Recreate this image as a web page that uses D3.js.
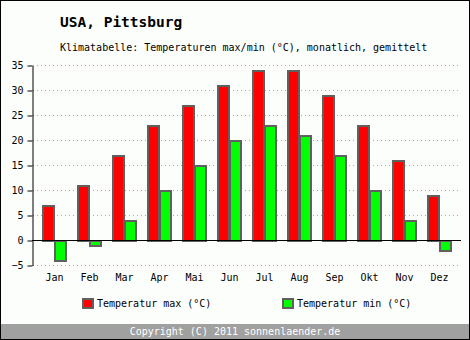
<!DOCTYPE html>
<html><head><meta charset="utf-8">
<script src="https://cdn.jsdelivr.net/npm/d3@7/dist/d3.min.js"></script>
<style>body{margin:0;background:#fff}svg{display:block}text{font-family:"DejaVu Sans Mono",monospace}</style>
</head><body>
<script>
const months = ["Jan","Feb","Mar","Apr","Mai","Jun","Jul","Aug","Sep","Okt","Nov","Dez"];
const tempMax = [7,11,17,23,27,31,34,34,29,23,16,9];
const tempMin = [-4,-1,4,10,15,20,23,21,17,10,4,-2];
const yTicks = [-5,0,5,10,15,20,25,30,35];
const seriesNames = ["Temperatur max (°C)","Temperatur min (°C)"];
const colors = ["#ff0000","#00ff00"];

const W=470,H=340;
const svg=d3.select("body").append("svg").attr("width",W).attr("height",H);
svg.append("rect").attr("x",0.5).attr("y",0.5).attr("width",W-1).attr("height",H-1).attr("fill","#fcfefc").attr("stroke","#000").attr("stroke-width",1);
svg.append("rect").attr("x",1).attr("y",324).attr("width",W-2).attr("height",15).attr("fill","#a0a0a0");
svg.append("text").attr("x",235).attr("y",335).attr("text-anchor","middle").attr("fill","#fff").attr("font-size",10).text("Copyright (C) 2011 sonnenlaender.de");

svg.append("text").attr("x",60).attr("y",27).attr("font-size",14.5).attr("font-weight","bold").text("USA, Pittsburg");
svg.append("text").attr("x",60).attr("y",51).attr("font-size",10).text("Klimatabelle: Temperaturen max/min (°C), monatlich, gemittelt");

const x=d3.scaleBand().domain(months).range([32,452]);
const y=d3.scaleLinear().domain([-5,35]).range([265,65]);

// grid
svg.append("g").selectAll("line").data(yTicks.filter(d=>d!==0)).join("line")
 .attr("x1",33).attr("x2",461).attr("y1",d=>y(d)+0.5).attr("y2",d=>y(d)+0.5)
 .attr("stroke","#aaaaaa").attr("stroke-dasharray","1,3");

// y axis
const ax=svg.append("g").attr("transform","translate(32.5,0.5)")
 .call(d3.axisLeft(y).tickValues(yTicks).tickSize(5).tickSizeOuter(0).tickPadding(4));
ax.select(".domain").attr("stroke","#000");
ax.selectAll("text").attr("font-size",10).attr("font-family","DejaVu Sans Mono").attr("fill","#000");

const bw=12;
const g=svg.append("g");
g.selectAll("rect.mx").data(tempMax).join("rect").attr("class","mx")
 .attr("x",(d,i)=>x(months[i])+11).attr("width",bw-1)
 .attr("y",d=>Math.min(y(d),y(0))+1).attr("height",d=>Math.abs(y(d)-y(0)))
 .attr("fill",colors[0]).attr("stroke","#606060").attr("stroke-width",2);
g.selectAll("rect.mn").data(tempMin).join("rect").attr("class","mn")
 .attr("x",(d,i)=>x(months[i])+11+bw).attr("width",bw-1)
 .attr("y",d=>Math.min(y(d),y(0))+1).attr("height",d=>Math.abs(y(d)-y(0)))
 .attr("fill",colors[1]).attr("stroke","#606060").attr("stroke-width",2);

svg.append("line").attr("x1",32).attr("x2",461).attr("y1",y(0)+0.5).attr("y2",y(0)+0.5).attr("stroke","#000");

svg.append("g").selectAll("text").data(months).join("text")
 .attr("x",d=>x(d)+22.5).attr("y",281).attr("text-anchor","middle").attr("font-size",10).text(d=>d);

const lg=svg.append("g");
[82,282].forEach((lx,i)=>{
 lg.append("rect").attr("x",lx+1).attr("y",299).attr("width",10).attr("height",9).attr("fill",colors[i]).attr("stroke","#606060").attr("stroke-width",2);
 lg.append("text").attr("x",lx+15).attr("y",307).attr("font-size",10).text(seriesNames[i]);
});
</script>
</body></html>
